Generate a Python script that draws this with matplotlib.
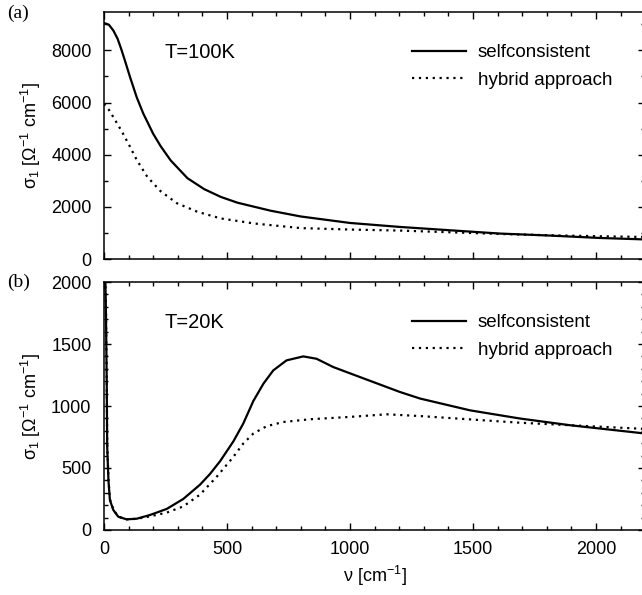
#!/usr/bin/env python3

import matplotlib
matplotlib.use("Agg")
import matplotlib.pyplot as plt
from matplotlib.ticker import MultipleLocator


# ============================================================
# DATA
# ============================================================

# (a) T = 100 K
nu_a_self = [0, 20, 38, 55, 70, 85, 106, 133, 160, 200, 230, 271, 339, 407,
             475, 542, 677, 800, 1000, 1203, 1406, 1610, 1813, 2016, 2200]
sig_a_self = [9050, 8980, 8760, 8450, 8050, 7610, 6970, 6200, 5570, 4800,
              4330, 3780, 3100, 2680, 2380, 2160, 1852, 1630, 1382, 1229,
              1102, 975, 898, 806, 750]

nu_a_hyb = [0, 20, 38, 72, 106, 133, 176, 230, 296, 379, 474, 610, 800,
            1000, 1203, 1406, 1610, 1813, 2016, 2200]
sig_a_hyb = [5950, 5720, 5440, 4900, 4300, 3800, 3150, 2600, 2140, 1813,
             1556, 1362, 1185, 1129, 1090, 1025, 960, 910, 871, 845]

# (b) T = 20 K
nu_b_self = [3, 8, 11, 13, 18, 24, 38, 58, 92, 133, 187, 255, 322, 390,
             430, 472, 526, 566, 607, 648, 688, 742, 810, 864, 932, 1041,
             1203, 1285, 1488, 1691, 1894, 2200]
sig_b_self = [2300, 1740, 1207, 670, 402, 241, 161, 107, 86, 91, 121, 170,
              250, 365, 450, 555, 715, 858, 1040, 1180, 1287, 1368, 1400,
              1381, 1314, 1233, 1113, 1060, 965, 899, 845, 778]

nu_b_hyb = [3, 8, 11, 13, 18, 24, 38, 58, 92, 133, 187, 255, 322, 390,
            458, 526, 566, 607, 661, 729, 837, 1000, 1149, 1285, 1488,
            1691, 1894, 2200]
sig_b_hyb = [2300, 1760, 1230, 700, 420, 250, 165, 108, 86, 90, 110, 140,
             190, 285, 429, 590, 697, 778, 837, 871, 893, 912, 933, 919,
             892, 865, 845, 815]

LABELS = ["selfconsistent", "hybrid approach"]
TEMPS = ["T=100K", "T=20K"]
PANELS = ["(a)", "(b)"]


# ============================================================
# STYLE
# ============================================================

plt.rcParams["font.family"] = ["Liberation Sans", "DejaVu Sans"]
plt.rcParams["font.size"] = 13
plt.rcParams["mathtext.fontset"] = "custom"
plt.rcParams["mathtext.rm"] = "Liberation Sans"
plt.rcParams["mathtext.default"] = "regular"

FS = 13
YLABEL = r"σ$_1$ [Ω$^{-1}$ cm$^{-1}$]"
DOTS = (0, (1.0, 2.1))
LW = 1.6


def style_axes(ax, ymajor, yminor):
    ax.set_xlim(0, 2200)
    ax.xaxis.set_major_locator(MultipleLocator(500))
    ax.xaxis.set_minor_locator(MultipleLocator(100))
    ax.yaxis.set_major_locator(MultipleLocator(ymajor))
    ax.yaxis.set_minor_locator(MultipleLocator(yminor))
    ax.tick_params(which="both", direction="in", top=True, right=True,
                   width=1.0, labelsize=FS)
    ax.tick_params(which="major", length=5)
    ax.tick_params(which="minor", length=2.8)
    ax.tick_params(axis="y", pad=9)
    ax.tick_params(axis="x", pad=8)
    for s in ax.spines.values():
        s.set_linewidth(1.1)
    ax.set_ylabel(YLABEL, fontsize=FS, labelpad=6)


# ============================================================
# PLOT
# ============================================================

fig = plt.figure(figsize=(6.42, 5.95), dpi=100)

W, H = 642.0, 595.0
left = 104 / W
width = (645.2 - 104) / W
ax_a = fig.add_axes([left, 1 - 259 / H, width, 247 / H])
ax_b = fig.add_axes([left, 1 - 530 / H, width, 248 / H])

ax_a.plot(nu_a_self, sig_a_self, color="black", lw=LW, label=LABELS[0])
ax_a.plot(nu_a_hyb, sig_a_hyb, color="black", lw=LW, ls=DOTS, label=LABELS[1])
ax_a.set_ylim(0, 9470)
style_axes(ax_a, 2000, 1000)
ax_a.tick_params(labelbottom=False)

ax_b.plot(nu_b_self, sig_b_self, color="black", lw=LW, label=LABELS[0])
ax_b.plot(nu_b_hyb, sig_b_hyb, color="black", lw=LW, ls=DOTS, label=LABELS[1])
ax_b.set_ylim(0, 2000)
style_axes(ax_b, 500, 100)
ax_b.set_xlabel(r"ν [cm$^{-1}$]", fontsize=FS, labelpad=4)

for ax, temp, ypos in [(ax_a, TEMPS[0], 52), (ax_b, TEMPS[1], 322)]:
    ax.text(165 / W, 1 - ypos / H, temp, transform=fig.transFigure,
            ha="left", va="center", fontsize=14.5)
    ax.legend(loc="upper left", bbox_to_anchor=(412 / W, 1 - (ypos - 8) / H),
              bbox_transform=fig.transFigure, frameon=False, fontsize=13.5,
              handlelength=2.9, handletextpad=0.6, labelspacing=0.55,
              borderpad=0, borderaxespad=0)

fig.text(7 / W, 1 - 13 / H, PANELS[0], family="Liberation Serif",
         fontsize=14, ha="left", va="center")
fig.text(7 / W, 1 - 282 / H, PANELS[1], family="Liberation Serif",
         fontsize=14, ha="left", va="center")

fig.savefig("out.png", dpi=100)
